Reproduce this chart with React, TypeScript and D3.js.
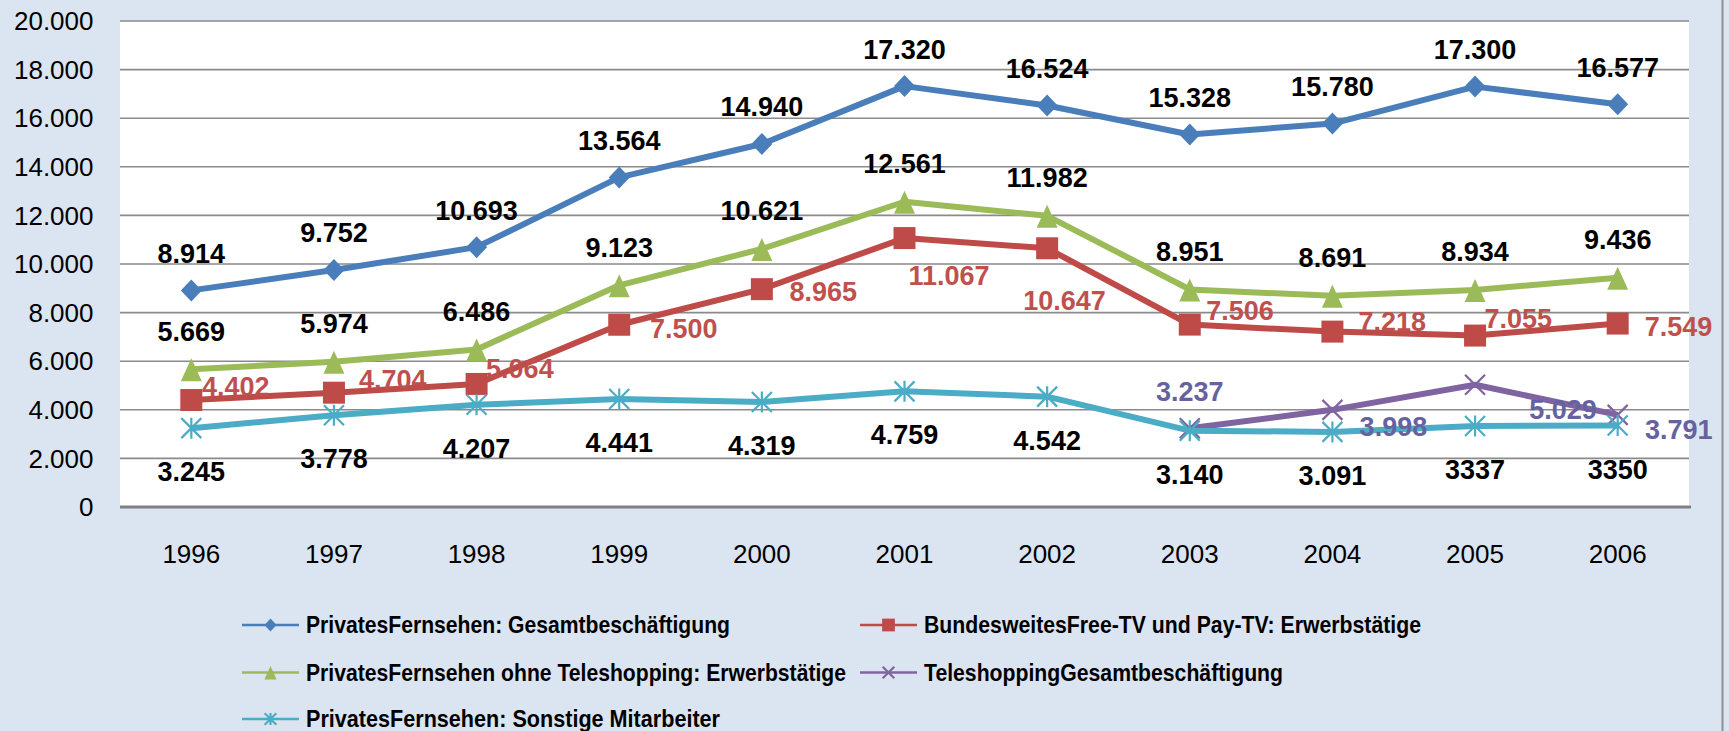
import React from 'react';
import * as d3 from 'd3';

// categories
const years = ['1996', '1997', '1998', '1999', '2000', '2001', '2002', '2003', '2004', '2005', '2006'];

// series values
const gesamt = [8914, 9752, 10693, 13564, 14940, 17320, 16524, 15328, 15780, 17300, 16577];
const freePay = [4402, 4704, 5064, 7500, 8965, 11067, 10647, 7506, 7218, 7055, 7549];
const ohneTeleshopping = [5669, 5974, 6486, 9123, 10621, 12561, 11982, 8951, 8691, 8934, 9436];
const teleshopping = [null, null, null, null, null, null, null, 3237, 3998, 5029, 3791];
const sonstige = [3245, 3778, 4207, 4441, 4319, 4759, 4542, 3140, 3091, 3337, 3350];
// the source prints the last two without separator
const sonstigeLabels = ['3.245', '3.778', '4.207', '4.441', '4.319', '4.759', '4.542', '3.140', '3.091', '3337', '3350'];

const seriesNames = [
  'PrivatesFernsehen: Gesamtbeschäftigung',
  'BundesweitesFree-TV und Pay-TV: Erwerbstätige',
  'PrivatesFernsehen ohne Teleshopping: Erwerbstätige',
  'TeleshoppingGesamtbeschäftigung',
  'PrivatesFernsehen: Sonstige Mitarbeiter',
];

const yTicks = [0, 2000, 4000, 6000, 8000, 10000, 12000, 14000, 16000, 18000, 20000];

const W = 1729;
const H = 731;
const plot = { left: 120, right: 1689, top: 21, bottom: 507 };
const FONT = '"Liberation Sans", Arial, sans-serif';

const de = d3.formatLocale({ decimal: ',', thousands: '.', grouping: [3], currency: ['', ' €'] });
const fmt = de.format(',d');

const x = d3.scaleBand<string>().domain(years).range([plot.left, plot.right]).padding(0);
const cx = (i: number) => (x(years[i]) as number) + x.bandwidth() / 2;
const y = d3.scaleLinear().domain([0, 20000]).range([plot.bottom, plot.top]);

const markers: Record<string, string> = {
  diamond: 'M0,-11L10.5,0L0,11L-10.5,0Z',
  square: 'M-11,-11H11V11H-11Z',
  triangle: 'M0,-11L10.5,12L-10.5,12Z',
  cross: 'M-10,-10L10,10M10,-10L-10,10',
  star: 'M0,-10.5V10.5M-10,-10L10,10M10,-10L-10,10',
};

// label placement (dx, dy from the point), hand-placed like the original
const aboveOffsets = years.map(() => [0, -37]);
const aboveGreen = years.map(() => [0, -38]);
const belowOffsets = years.map(() => [0, 43.5]);
const redOffsets = [
  [10.7, -13.3], [25, -12.7], [9.5, -15.6], [30.7, 3.5], [27.7, 2], [4, 37],
  [-24, 52], [16.5, -14], [26, -10], [9.4, -17], [27, 3],
];
const purpleOffsets = [
  [0, 0], [0, 0], [0, 0], [0, 0], [0, 0], [0, 0], [0, 0],
  [0, -36.6], [61, 17], [88, 25], [61, 15],
];

type Series = {
  name: string;
  values: (number | null)[];
  labels: string[];
  color: string;
  labelColor: string;
  marker: string;
  filled: boolean;
  offsets: number[][];
  anchor: 'middle' | 'start';
};

const series: Series[] = [
  { name: seriesNames[0], values: gesamt, labels: gesamt.map(fmt), color: '#4a7ebb', labelColor: '#000', marker: 'diamond', filled: true, offsets: aboveOffsets, anchor: 'middle' },
  { name: seriesNames[1], values: freePay, labels: freePay.map(fmt), color: '#be4b48', labelColor: '#c0504d', marker: 'square', filled: true, offsets: redOffsets, anchor: 'start' },
  { name: seriesNames[2], values: ohneTeleshopping, labels: ohneTeleshopping.map(fmt), color: '#9bbb59', labelColor: '#000', marker: 'triangle', filled: true, offsets: aboveGreen, anchor: 'middle' },
  { name: seriesNames[3], values: teleshopping, labels: teleshopping.map((v) => (v == null ? '' : fmt(v))), color: '#8064a2', labelColor: '#66629f', marker: 'cross', filled: false, offsets: purpleOffsets, anchor: 'middle' },
  { name: seriesNames[4], values: sonstige, labels: sonstigeLabels, color: '#4bacc6', labelColor: '#000', marker: 'star', filled: false, offsets: belowOffsets, anchor: 'middle' },
];

// legend layout: line start x, row y, text width
const legendSlots = [
  { lx: 242, ty: 625, w: 424 },
  { lx: 860, ty: 625, w: 497 },
  { lx: 242, ty: 672.5, w: 540 },
  { lx: 860, ty: 672.5, w: 359 },
  { lx: 242, ty: 719, w: 414 },
];

const lineGen = d3
  .line<number | null>()
  .defined((d) => d != null)
  .x((_, i) => cx(i))
  .y((d) => y(d as number));

const Marker = ({ s, tx, ty, scale = 1 }: { s: Series; tx: number; ty: number; scale?: number }) => (
  <path
    d={markers[s.marker]}
    transform={`translate(${tx},${ty}) scale(${scale})`}
    fill={s.filled ? s.color : 'none'}
    stroke={s.color}
    strokeWidth={s.filled ? 0 : 2.2 / scale}
  />
);

export default function App() {
  return (
    <div style={{ position: 'absolute', left: 0, top: 0 }}>
      <svg width={W} height={H} style={{ display: 'block', fontFamily: FONT }}>
        <rect width={W} height={H} fill="#dbe5f1" />
        <rect x={plot.left} y={plot.top} width={plot.right - plot.left} height={plot.bottom - plot.top} fill="#fff" />
        <line x1={1722.5} x2={1722.5} y1={0} y2={H} stroke="#8f8f8f" strokeWidth={2} />

        {yTicks.filter((t) => t > 0).map((t) => (
          <line key={t} x1={plot.left} x2={plot.right} y1={y(t)} y2={y(t)} stroke="#8a8a8a" strokeWidth={1.6} />
        ))}
        <line x1={plot.left} x2={plot.right + 2} y1={y(0)} y2={y(0)} stroke="#808080" strokeWidth={3} />

        {yTicks.map((t) => (
          <text key={t} x={93.5} y={y(t)} dy="0.35em" textAnchor="end" fontSize={26} fill="#000">
            {fmt(t)}
          </text>
        ))}
        {years.map((yr, i) => (
          <text key={yr} x={cx(i)} y={554} dy="0.35em" textAnchor="middle" fontSize={26} fill="#000">
            {yr}
          </text>
        ))}

        {series.map((s) => (
          <g key={s.name}>
            <path d={lineGen(s.values) || ''} fill="none" stroke={s.color} strokeWidth={6} strokeLinejoin="round" />
            {s.values.map((v, i) => (v == null ? null : <Marker key={i} s={s} tx={cx(i)} ty={y(v)} />))}
          </g>
        ))}

        {series.map((s) => (
          <g key={s.name + '-labels'}>
            {s.values.map((v, i) =>
              v == null ? null : (
                <text
                  key={i}
                  x={cx(i) + s.offsets[i][0]}
                  y={y(v) + s.offsets[i][1]}
                  dy="0.35em"
                  textAnchor={s.anchor}
                  fontSize={27}
                  fontWeight="bold"
                  fill={s.labelColor}
                >
                  {s.labels[i]}
                </text>
              )
            )}
          </g>
        ))}

        {series.map((s, i) => {
          const slot = legendSlots[i];
          return (
            <g key={s.name + '-legend'}>
              <line x1={slot.lx} x2={slot.lx + 57} y1={slot.ty} y2={slot.ty} stroke={s.color} strokeWidth={2.5} />
              <Marker s={s} tx={slot.lx + 28.5} ty={slot.ty} scale={0.58} />
              <text
                x={slot.lx + 64}
                y={slot.ty}
                dy="0.35em"
                fontSize={24}
                fontWeight="bold"
                fill="#000"
                textLength={slot.w}
                lengthAdjust="spacingAndGlyphs"
              >
                {s.name}
              </text>
            </g>
          );
        })}
      </svg>
    </div>
  );
}
